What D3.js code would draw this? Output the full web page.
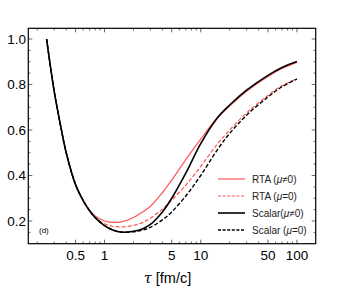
<!DOCTYPE html>
<html><head><meta charset="utf-8">
<script src="https://cdn.jsdelivr.net/npm/d3@7"></script>
<style>
body{margin:0;background:#fff;}
svg{display:block;}
text{font-family:"Liberation Sans",Arial,sans-serif;}
</style></head>
<body>
<svg id="c" width="357" height="287"></svg>
<script>
const tau = [0.25,0.3,0.35,0.4,0.5,0.6,0.7,0.8,1.0,1.2,1.5,2,2.5,3,4,5,7,10,15,20,30,50,70,100];
const rtaMuNonZero   = [1.0,0.77,0.618,0.5,0.36,0.29,0.248,0.222,0.2,0.194,0.196,0.215,0.24,0.265,0.325,0.38,0.47,0.56,0.655,0.705,0.77,0.835,0.87,0.897];
const rtaMuZero      = [1.0,0.77,0.618,0.5,0.36,0.29,0.245,0.216,0.188,0.177,0.174,0.18,0.194,0.212,0.252,0.292,0.358,0.44,0.54,0.6,0.675,0.752,0.795,0.825];
const scalarMuNonZero= [1.0,0.77,0.618,0.5,0.36,0.29,0.245,0.215,0.18,0.162,0.151,0.155,0.166,0.185,0.24,0.30,0.41,0.54,0.655,0.71,0.775,0.84,0.875,0.901];
const scalarMuZero   = [1.0,0.77,0.618,0.5,0.36,0.29,0.245,0.215,0.18,0.162,0.151,0.153,0.16,0.172,0.205,0.24,0.31,0.40,0.515,0.585,0.665,0.745,0.79,0.824];
const xTickValues = [0.5,1,5,10,50,100];
const xTickLabels = ["0.5","1","5","10","50","100"];
const yTickValues = [0.2,0.4,0.6,0.8,1.0];
const yTickLabels = ["0.2","0.4","0.6","0.8","1.0"];
const legendLabels = [["RTA (","μ","≠0)"],["RTA (","μ","=0)"],["Scalar(","μ","≠0)"],["Scalar (","μ","=0)"]];

const series = [
  {v: rtaMuNonZero, color:"#ff5555", w:1.2, dash:null},
  {v: rtaMuZero, color:"#ff5555", w:1.2, dash:"4,2"},
  {v: scalarMuNonZero, color:"#000", w:1.6, dash:null},
  {v: scalarMuZero, color:"#000", w:1.4, dash:"4,2"}
];

const L=28.3, R=315.7, T=28.3, B=243.7;
const x = d3.scaleLog().domain([0.1614,156.8]).range([L,R]);
const y = d3.scaleLinear().domain([0.1002,1.047]).range([B,T]);
const svg = d3.select("#c");

const xMinor = [];
[0.1,1,10,100].forEach(d=>{for(let k=1;k<10;k++){const v=d*k; if(v>=0.1614 && v<=156.8) xMinor.push(v);}});
const yMinor = d3.range(0.15,1.05,0.05).map(v=>+v.toFixed(2));

const g = svg.append("g");
function tk(x1,y1,x2,y2){g.append("line").attr("x1",x1).attr("y1",y1).attr("x2",x2).attr("y2",y2).attr("stroke","#000").attr("stroke-width",0.6);}
xMinor.forEach(v=>{const major=xTickValues.includes(+v.toPrecision(3)); const len=major?4:2.2; const px=x(v); tk(px,B,px,B-len); tk(px,T,px,T+len);});
yMinor.forEach(v=>{const major=Math.abs(v*5-Math.round(v*5))<1e-6; const len=major?4:2.2; const py=y(v); tk(L,py,L+len,py); tk(R,py,R-len,py);});

const line = d3.line().x((d,i)=>x(tau[i])).y(d=>y(d)).curve(d3.curveCatmullRom.alpha(0.5));
series.forEach(s=>{
  svg.append("path").attr("d",line(s.v)).attr("fill","none").attr("stroke",s.color)
    .attr("stroke-width",s.w).attr("stroke-dasharray",s.dash);
});

svg.append("rect").attr("x",L).attr("y",T).attr("width",R-L).attr("height",B-T)
  .attr("fill","none").attr("stroke","#000").attr("stroke-width",1.2);

xTickValues.forEach((v,i)=>{
  svg.append("text").attr("x",x(v)).attr("y",260).attr("text-anchor","middle")
    .attr("font-size",13.5).text(xTickLabels[i]);
});
yTickValues.forEach((v,i)=>{
  svg.append("text").attr("x",26).attr("y",y(v)+4.7).attr("text-anchor","end")
    .attr("font-size",13.5).text(yTickLabels[i]);
});
const xl = svg.append("text").attr("x",167.5).attr("y",283).attr("text-anchor","middle").attr("font-size",14.5);
xl.append("tspan").attr("font-style","italic").attr("font-family","'DejaVu Serif',serif").text("τ");
xl.append("tspan").text(" [fm/c]");

svg.append("text").attr("x",39).attr("y",233).attr("font-size",8).text("(d)");

legendLabels.forEach((lab,i)=>{
  const s = series[i];
  const ly = [179,196,213,230][i];
  svg.append("line").attr("x1",218).attr("x2",245).attr("y1",ly).attr("y2",ly)
    .attr("stroke",s.color).attr("stroke-width",s.w).attr("stroke-dasharray",s.dash?"3,1.6":null);
  const t = svg.append("text").attr("x",252).attr("y",ly+3.5).attr("font-size",10).attr("fill","#222");
  t.append("tspan").text(lab[0]);
  t.append("tspan").attr("font-style","italic").text(lab[1]);
  t.append("tspan").text(lab[2]);
});
</script>
</body></html>
